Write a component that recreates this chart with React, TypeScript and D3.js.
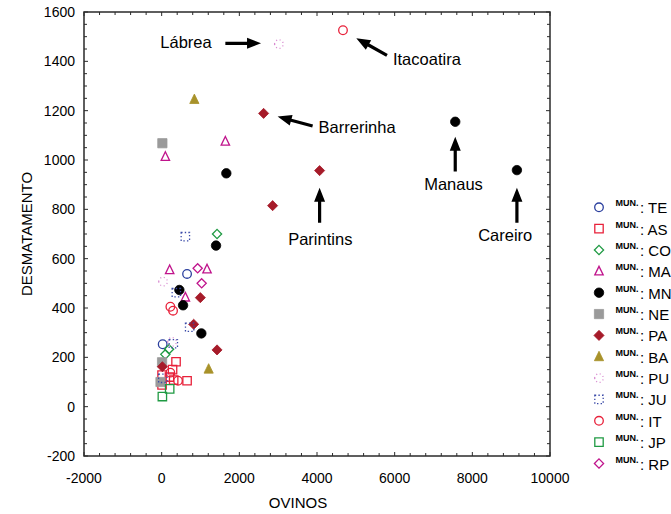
import React from "react";
import * as d3 from "d3";

// ---- data ----
const seriesCodes = ["TE", "AS", "CO", "MA", "MN", "NE", "PA", "BA", "PU", "JU", "IT", "JP", "RP"];

const TE: [number, number][] = [[654, 538], [26, 253]];
const AS: [number, number][] = [[370, 182], [280, 150], [309, 108], [654, 105], [10, 128], [10, 88], [200, 120]];
const CO: [number, number][] = [[1426, 700], [190, 233], [95, 212]];
const MA: [number, number][] = [[1640, 1075], [95, 1013], [206, 554], [1168, 557], [610, 443]];
const MN: [number, number][] = [[7560, 1155], [9148, 959], [1665, 946], [1400, 653], [456, 473], [551, 411], [1022, 297]];
const NE: [number, number][] = [[18, 1068], [10, 180], [-30, 100]];
const PA: [number, number][] = [[2625, 1189], [4067, 957], [2857, 815], [996, 442], [824, 334], [1426, 230], [18, 162]];
const BA: [number, number][] = [[842, 1245], [1210, 152]];
const PU: [number, number][] = [[3019, 1470], [36, 507], [267, 263]];
const JU: [number, number][] = [[610, 689], [378, 462], [721, 322], [300, 255], [30, 115]];
const IT: [number, number][] = [[4669, 1526], [224, 405], [293, 389], [224, 138], [421, 105]];
const JP: [number, number][] = [[206, 72], [18, 41]];
const RP: [number, number][] = [[927, 561], [1030, 500]];

const seriesData: Record<string, [number, number][]> = { TE, AS, CO, MA, MN, NE, PA, BA, PU, JU, IT, JP, RP };

const xTicks = [-2000, 0, 2000, 4000, 6000, 8000, 10000];
const yTicks = [-200, 0, 200, 400, 600, 800, 1000, 1200, 1400, 1600];

// annotations: label, text anchor point, arrow tail, arrow head (data units)
const annLabels = ["Lábrea", "Itacoatira", "Barrerinha", "Manaus", "Careiro", "Parintins"];
const annText: [number, number][] = [[-34, 1454], [5956, 1385], [4041, 1109], [7516, 878], [8847, 672], [4085, 655]];
const annTail: [number, number][] = [[1640, 1473], [5802, 1424], [3887, 1138], [7560, 953], [9148, 746], [4067, 746]];
const annHead: [number, number][] = [[2559, 1473], [5012, 1494], [2986, 1176], [7560, 1094], [9148, 888], [4067, 888]];
const annAnchor = ["start", "start", "start", "middle", "middle", "middle"];

// ---- styles ----
const styles: Record<string, { shape: string; color: string; fill: boolean; dash?: string }> = {
  TE: { shape: "circle", color: "#2b3f9e", fill: false },
  AS: { shape: "square", color: "#e8213a", fill: false },
  CO: { shape: "diamond", color: "#1f9a43", fill: false },
  MA: { shape: "triangle", color: "#c0148c", fill: false },
  MN: { shape: "circle", color: "#000000", fill: true },
  NE: { shape: "square", color: "#9a9a9a", fill: true },
  PA: { shape: "diamond", color: "#a61b29", fill: true },
  BA: { shape: "triangle", color: "#a8922a", fill: true },
  PU: { shape: "circle", color: "#d88ad0", fill: false, dash: "1,2.6" },
  JU: { shape: "square", color: "#3a4aa8", fill: false, dash: "1.4,2.2" },
  IT: { shape: "circle", color: "#e8213a", fill: false },
  JP: { shape: "square", color: "#1f9a43", fill: false },
  RP: { shape: "diamond", color: "#c0148c", fill: false },
};

function markerPath(shape: string, filled: boolean): string {
  const s = filled ? 1.1 : 1;
  if (shape === "circle") {
    const r = 4.3 * s;
    return `M${-r},0A${r},${r} 0 1,0 ${r},0A${r},${r} 0 1,0 ${-r},0Z`;
  }
  if (shape === "square") {
    const h = 4.2 * s;
    return `M${-h},${-h}H${h}V${h}H${-h}Z`;
  }
  if (shape === "diamond") {
    const h = 4.6 * s;
    return `M0,${-h}L${h},0L0,${h}L${-h},0Z`;
  }
  // triangle
  const w = 4.2 * s;
  const t = 5 * s;
  const b = 3.6 * s;
  return `M0,${-t}L${w},${b}L${-w},${b}Z`;
}

function Marker({ code, x, y }: { code: string; x: number; y: number }) {
  const st = styles[code];
  return (
    <path
      d={markerPath(st.shape, st.fill)}
      transform={`translate(${x},${y})`}
      fill={st.fill ? st.color : "none"}
      stroke={st.color}
      strokeWidth={st.fill ? 0.8 : 1.3}
      strokeDasharray={st.dash}
    />
  );
}

function arrowPath(x1: number, y1: number, x2: number, y2: number): string {
  const dx = x2 - x1, dy = y2 - y1;
  const len = Math.sqrt(dx * dx + dy * dy);
  const ux = dx / len, uy = dy / len;
  const px = -uy, py = ux;
  const headL = 14, headW = 5.5, shaftW = 1.6;
  const bx = x2 - ux * headL, by = y2 - uy * headL;
  const pts = [
    [x1 + px * shaftW, y1 + py * shaftW],
    [bx + px * shaftW, by + py * shaftW],
    [bx + px * headW, by + py * headW],
    [x2, y2],
    [bx - px * headW, by - py * headW],
    [bx - px * shaftW, by - py * shaftW],
    [x1 - px * shaftW, y1 - py * shaftW],
  ];
  return "M" + pts.map((p) => p.join(",")).join("L") + "Z";
}

export default function App() {
  const W = 671, H = 514;
  const left = 84, right = 550, top = 12, bottom = 456;
  const x = d3.scaleLinear().domain([-2000, 10000]).range([left, right]);
  const y = d3.scaleLinear().domain([-200, 1600]).range([bottom, top]);

  const xMinor = d3.range(-2000, 10001, 400);
  const yMinor = d3.range(-200, 1601, 50);
  const font = "'Liberation Sans', Arial, sans-serif";
  const axisColor = "#2a2a2a";

  const legendY0 = 207.3;
  const legendStep = 21.35;

  return (
    <svg width={W} height={H} style={{ position: "absolute", left: 0, top: 0, background: "#fff" }} fontFamily={font}>
      {/* frame */}
      <rect x={left} y={top} width={right - left} height={bottom - top} fill="none" stroke={axisColor} strokeWidth={1.5} />
      {/* minor ticks */}
      {xMinor.map((v) => {
        const major = v % 2000 === 0;
        const l = major ? 4 : 3;
        return (
          <g key={"xm" + v}>
            <line x1={x(v)} x2={x(v)} y1={bottom} y2={bottom - l} stroke={axisColor} strokeWidth={1} />
            <line x1={x(v)} x2={x(v)} y1={top} y2={top + l} stroke={axisColor} strokeWidth={1} />
          </g>
        );
      })}
      {yMinor.map((v) => {
        const major = v % 200 === 0;
        const l = major ? 4 : 3;
        return (
          <g key={"ym" + v}>
            <line x1={left} x2={left + l} y1={y(v)} y2={y(v)} stroke={axisColor} strokeWidth={1} />
            <line x1={right} x2={right - l} y1={y(v)} y2={y(v)} stroke={axisColor} strokeWidth={1} />
          </g>
        );
      })}
      {/* tick labels */}
      {xTicks.map((v) => (
        <text key={"xt" + v} x={x(v)} y={483} textAnchor="middle" fontSize={14} fill="#000">
          {v}
        </text>
      ))}
      {yTicks.map((v) => (
        <text key={"yt" + v} x={75} y={y(v) + 5} textAnchor="end" fontSize={14} fill="#000">
          {v}
        </text>
      ))}
      {/* axis titles */}
      <text x={298} y={508} textAnchor="middle" fontSize={15} fill="#000">OVINOS</text>
      <text transform={`translate(32,${(top + bottom) / 2}) rotate(-90)`} textAnchor="middle" fontSize={15} fill="#000">
        DESMATAMENTO
      </text>
      {/* points */}
      {seriesCodes.map((code) => (
        <g key={code}>
          {seriesData[code].map((p, i) => (
            <Marker key={i} code={code} x={x(p[0])} y={y(p[1])} />
          ))}
        </g>
      ))}
      {/* annotations */}
      {annLabels.map((lab, i) => (
        <g key={"ann" + i}>
          <path d={arrowPath(x(annTail[i][0]), y(annTail[i][1]), x(annHead[i][0]), y(annHead[i][1]))} fill="#000" />
          <text x={x(annText[i][0])} y={y(annText[i][1])} textAnchor={annAnchor[i]} fontSize={16.5} fill="#000">
            {lab}
          </text>
        </g>
      ))}
      {/* legend */}
      {seriesCodes.map((code, i) => {
        const cy = legendY0 + i * legendStep;
        return (
          <g key={"lg" + code}>
            <Marker code={code} x={599} y={cy} />
            <text x={615.5} y={cy - 1} fontSize={9} fontWeight="bold" fill="#000">MUN.</text>
            <text x={640} y={cy + 6} fontSize={15} fill="#000">: {code}</text>
          </g>
        );
      })}
    </svg>
  );
}
